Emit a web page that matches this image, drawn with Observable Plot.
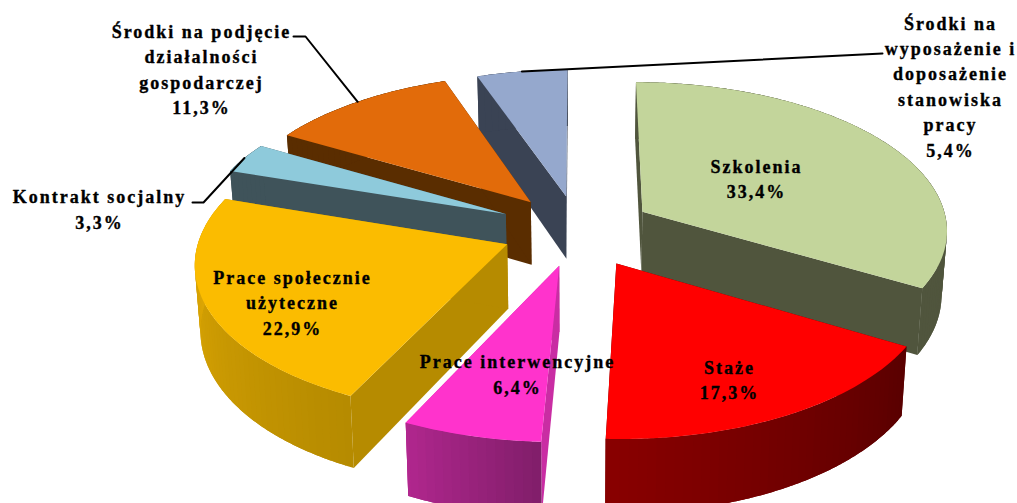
<!DOCTYPE html>
<html>
<head>
<meta charset="utf-8">
<script src="https://cdn.jsdelivr.net/npm/d3@7"></script>
<script src="https://cdn.jsdelivr.net/npm/@observablehq/plot@0.6"></script>
<style>html,body{margin:0;padding:0;background:#fff}</style>
</head>
<body>
<div id="chart"></div>
<script>
// Data, clockwise from 12 o'clock
const categories = ["Szkolenia","Staże","Prace interwencyjne","Prace społecznie użyteczne","Kontrakt socjalny","Środki na podjęcie działalności gospodarczej","Środki na wyposażenie i doposażenie stanowiska pracy"];
const shares = [33.4,17.3,6.4,22.9,3.3,11.3,5.4];
const shareLabels = ["33,4%","17,3%","6,4%","22,9%","3,3%","11,3%","5,4%"];
const labelLines = [["Szkolenia"],["Staże"],["Prace interwencyjne"],["Prace społecznie","użyteczne"],["Kontrakt socjalny"],["Środki na podjęcie","działalności","gospodarczej"],["Środki na","wyposażenie i","doposażenie","stanowiska","pracy"]];

// Colours per slice: top, cut face, outer wall at start and end of the arc
const topColors = ["#c3d59b","#ff0000","#ff33cc","#fbbc00","#8ecadb","#e26b0a","#95a8cd"];
const faceColors = ["#50553d","#5a0000","#c92da3","#b68b00","#3f535a","#5a2d00","#3a4354"];
const wallStart = ["#50553d","#5a0000","#821e6b","#b68b00","#3f535a","#5a2d00","#3a4354"];
const wallEnd = ["#50553d","#8a0000","#b2278f","#e6ad05","#3f535a","#5a2d00","#3a4354"];

// Camera / 3-D pie settings
const explode = [0.246,0.255,0.246,0.249,0.261,0.246,0.233];
const persp = 0.112, thick = 0.433, shrink = 0.015;
const W = 1017, H = 503, cx = 577.5, cy = 229, A = 306, B = 147.7;
const sx = (p) => (p - cx) / A, sy = (p) => (cy - p) / B;

// Painter's order, back to front
const order = [6,5,4,0,3,2,1];

const total = d3.sum(shares);
const rad = (d) => d * Math.PI / 180;
let acc = 0;
const wedges = shares.map((v, i) => {
  const a0 = acc / total * 360; acc += v; const a1 = acc / total * 360;
  return {i, a0, a1, m: (a0 + a1) / 2};
});
function project3(w, r, ang, z) {
  const X = explode[w.i] * Math.sin(rad(w.m)) + r * Math.sin(rad(ang));
  const Y = explode[w.i] * Math.cos(rad(w.m)) + r * Math.cos(rad(ang));
  const d = 1 + persp * Y;
  return {x: X / (d * (1 + shrink * z)), y: (Y - thick * z) / d};
}
const polys = [];
function addPoly(id, color, pts) {
  pts.forEach((p) => polys.push({id, color, x: p.x, y: p.y}));
}
const STEP = 1.5;
order.forEach((i) => {
  const w = wedges[i];
  const angs = d3.range(w.a0, w.a1, STEP).concat([w.a1]);
  // Cut faces
  [w.a0, w.a1].forEach((a, k) => {
    addPoly(`f${i}_${k}`, faceColors[i], [
      project3(w, 0, a, 0), project3(w, 1, a, 0), project3(w, 1, a, 1), project3(w, 0, a, 1)
    ]);
  });
  // Outer wall in small overlapping strips, so it can carry the shading without seams
  const shade = d3.interpolateRgb(wallStart[i], wallEnd[i]);
  d3.pairs(angs).forEach(([a, b], k) => {
    const c = Math.min(b + STEP, w.a1);
    const mid = d3.range(a, c, 0.5).concat([c]);
    addPoly(`w${i}_${k}`, shade((a - w.a0) / (w.a1 - w.a0)), [
      ...mid.map((t) => project3(w, 1, t, 0)),
      ...mid.slice().reverse().map((t) => project3(w, 1, t, 1))
    ]);
  });
  // Top
  addPoly(`t${i}`, topColors[i], [project3(w, 0, 0, 0), ...angs.map((a) => project3(w, 1, a, 0))]);
});

// Label placement (pixels), converted to the chart's scale units
const labelAt = [[756,177],[729,378],[517,372.5],[292,300.5],[99,207.5],[201,67.5],[950,84.5]];
const labels = categories.map((c, i) => ({
  text: [...labelLines[i], shareLabels[i]].join("\n"),
  x: sx(labelAt[i][0]), y: sy(labelAt[i][1])
}));
// Leader lines: from the rim at the slice's mid angle, then knees in pixels
const leaders = [
  {i: 4, knees: [[203,202],[192,202]]},
  {i: 5, knees: [[305,36],[293,36]]},
  {i: 6, knees: [[882,53]]}
];
const leaderPts = leaders.flatMap((l) => {
  const s = project3(wedges[l.i], 1, wedges[l.i].m, 0);
  return [s, ...l.knees.map(([a, b]) => ({x: sx(a), y: sy(b)}))].map((p) => ({...p, id: l.i}));
});

const chart = Plot.plot({
  width: W, height: H, margin: 0,
  x: {domain: [sx(0), sx(W)], range: [0, W], axis: null},
  y: {domain: [sy(0), sy(H)], range: [0, H], axis: null},
  color: {type: "identity"},
  style: {background: "#fff", letterSpacing: "2px"},
  marks: [
    Plot.line(polys, {x: "x", y: "y", z: "id", fill: "color", stroke: "none", curve: "linear"}),
    Plot.line(leaderPts, {x: "x", y: "y", z: "id", stroke: "#000", strokeWidth: 2, curve: "linear"}),
    Plot.text(labels, {x: "x", y: "y", text: "text", fontFamily: "Liberation Serif", fontWeight: "bold", fontSize: 18, lineHeight: 1.41, textAnchor: "middle", fill: "#000", stroke: "#000", strokeWidth: 0.35})
  ]
});
document.getElementById("chart").appendChild(chart);
</script>
</body>
</html>
